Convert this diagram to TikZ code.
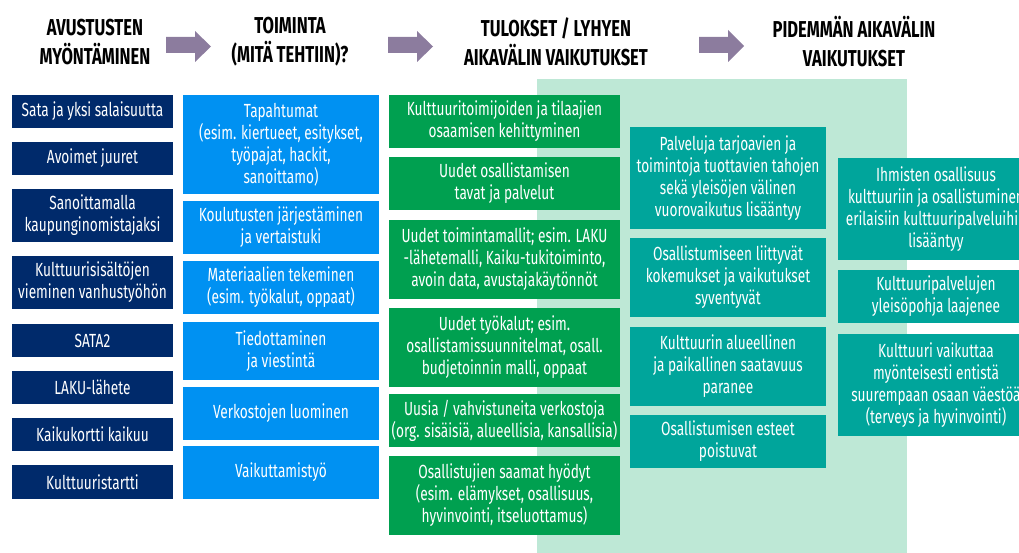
\documentclass[tikz,border=0pt]{standalone}
\usepackage{fontspec}
\setmainfont[FakeStretch=0.72]{Fira Sans}
\definecolor{navy}{HTML}{002A6B}
\definecolor{sky}{HTML}{0091F2}
\definecolor{grn}{HTML}{00A050}
\definecolor{teal2}{HTML}{00A59B}
\definecolor{mint}{HTML}{BEE8D6}
\definecolor{arr}{HTML}{8C7C9E}
\begin{document}
\begin{tikzpicture}[x=1pt,y=-1pt,
  box/.style={inner sep=0pt, align=center, text=white, font=\fontsize{19}{22}\selectfont},
  c1/.style={box, fill=navy, minimum width=161pt},
  c2/.style={box, fill=sky, minimum width=196pt},
  c3/.style={box, fill=grn, minimum width=231pt},
  c4/.style={box, fill=teal2, minimum width=196pt},
  hdr/.style={align=center, inner sep=0pt, font=\fontsize{23}{29}\selectfont\bfseries},
  parrow/.style={fill=arr, draw=none}]
\useasboundingbox (0,0) rectangle (1019,553);
\clip (0,0) rectangle (1019,553);
\fill[mint] (537,79) rectangle (907,553);
% headers
\node[hdr] (h1) at (95,42) {AVUSTUSTEN\\MYÖNTÄMINEN};
\node[hdr] (h2) at (290,42) {TOIMINTA\\(MITÄ TEHTIIN)?};
\node[hdr] (h3) at (556,42) {TULOKSET / LYHYEN\\AIKAVÄLIN VAIKUTUKSET};
\node[hdr] (h4) at (854,42) {PIDEMMÄN AIKAVÄLIN\\VAIKUTUKSET};
% arrows
\fill[parrow] (166,37) -- (195,37) -- (195,31) -- (211,46.5) -- (195,62) -- (195,53) -- (166,53) -- cycle;
\fill[parrow] (388,37) -- (417,37) -- (417,31) -- (433,46.5) -- (417,62) -- (417,53) -- (388,53) -- cycle;
\fill[parrow] (699,37) -- (728,37) -- (728,30) -- (744,46) -- (728,62) -- (728,53) -- (699,53) -- cycle;
% column 1
\node[c1, minimum height=33pt] (a1) at (92.5,111.5) {Sata ja yksi salaisuutta};
\node[c1, minimum height=33pt] (a2) at (92.5,158.5) {Avoimet juuret};
\node[c1, minimum height=53pt] (a3) at (92.5,215.5) {Sanoittamalla\\kaupunginomistajaksi};
\node[c1, minimum height=53pt] (a4) at (92.5,282.5) {Kulttuurisisältöjen\\vieminen vanhustyöhön};
\node[c1, minimum height=33pt] (a5) at (92.5,340.5) {SATA2};
\node[c1, minimum height=33pt] (a6) at (92.5,387.5) {LAKU-lähete};
\node[c1, minimum height=33pt] (a7) at (92.5,434.5) {Kaikukortti kaikuu};
\node[c1, minimum height=34pt] (a8) at (92.5,482) {Kulttuuristartti};
% column 2
\node[c2, minimum height=99pt] (b1) at (281,144.5) {Tapahtumat\\(esim. kiertueet, esitykset,\\työpajat, hackit,\\sanoittamo)};
\node[c2, minimum height=53pt] (b2) at (281,227.5) {Koulutusten järjestäminen\\ja vertaistuki};
\node[c2, minimum height=53pt] (b3) at (281,287.5) {Materiaalien tekeminen\\(esim. työkalut, oppaat)};
\node[c2, minimum height=58pt] (b4) at (281,351) {Tiedottaminen\\ja viestintä};
\node[c2, minimum height=53pt] (b5) at (281,413.5) {Verkostojen luominen};
\node[c2, minimum height=53pt] (b6) at (281,472.5) {Vaikuttamistyö};
% column 3
\node[c3, minimum height=53pt] (g1) at (504.5,121.5) {Kulttuuritoimijoiden ja tilaajien\\osaamisen kehittyminen};
\node[c3, minimum height=53pt] (g2) at (504.5,183.5) {Uudet osallistamisen\\tavat ja palvelut};
\node[c3, minimum height=79pt] (g3) at (504.5,259.5) {Uudet toimintamallit; esim. LAKU\\-lähetemalli, Kaiku-tukitoiminto,\\avoin data, avustajakäytönnöt};
\node[c3, minimum height=79pt] (g4) at (504.5,347.5) {Uudet työkalut; esim.\\osallistamissuunnitelmat, osall.\\budjetoinnin malli, oppaat};
\node[c3, minimum height=53pt] (g5) at (504.5,420.5) {Uusia / vahvistuneita verkostoja\\(org. sisäisiä, alueellisia, kansallisia)};
\node[c3, minimum height=79pt] (g6) at (504.5,495.5) {Osallistujien saamat hyödyt\\(esim. elämykset, osallisuus,\\hyvinvointi, itseluottamus)};
% column 4
\node[c4, minimum height=102pt] (d1) at (728,178) {Palveluja tarjoavien ja\\toimintoja tuottavien tahojen\\sekä yleisöjen välinen\\vuorovaikutus lisääntyy};
\node[c4, minimum height=79pt] (d2) at (728,277.5) {Osallistumiseen liittyvät\\kokemukset ja vaikutukset\\syventyvät};
\node[c4, minimum height=79pt] (d3) at (728,366.5) {Kulttuurin alueellinen\\ja paikallinen saatavuus\\paranee};
\node[c4, minimum height=53pt] (d4) at (728,441.5) {Osallistumisen esteet\\poistuvat};
% column 5
\node[c4, minimum height=102pt] (e1) at (936,209) {Ihmisten osallisuus\\kulttuuriin ja osallistuminen\\erilaisiin kulttuuripalveluihin\\lisääntyy};
\node[c4, minimum height=53pt] (e2) at (936,296.5) {Kulttuuripalvelujen\\yleisöpohja laajenee};
\node[c4, minimum height=102pt] (e3) at (936,385) {Kulttuuri vaikuttaa\\myönteisesti entistä\\suurempaan osaan väestöä\\(terveys ja hyvinvointi)};
\end{tikzpicture}
\end{document}
